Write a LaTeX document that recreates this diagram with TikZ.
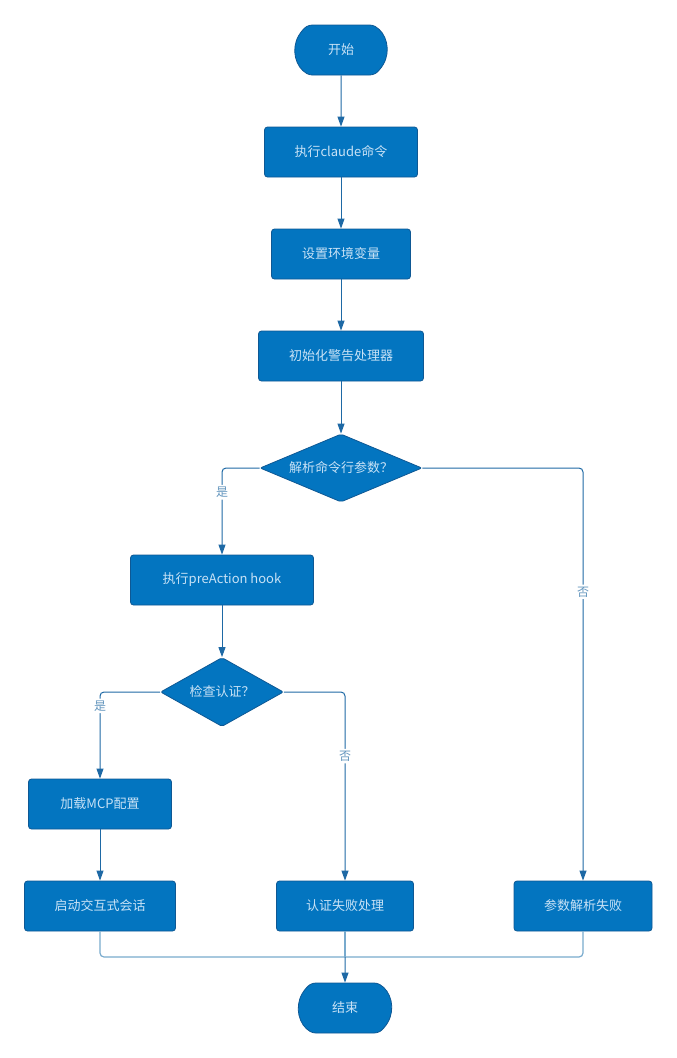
\documentclass[tikz,border=0pt]{standalone}
\usepackage{fontspec}
\setmainfont{Noto Sans CJK SC}
\usetikzlibrary{arrows.meta,shapes.geometric,shapes.misc}
\definecolor{boxfill}{RGB}{3,117,192}
\definecolor{boxline}{RGB}{14,88,148}
\definecolor{boxtext}{RGB}{200,226,246}
\definecolor{flowline}{RGB}{30,105,165}
\definecolor{joinline}{RGB}{120,170,205}
\definecolor{labtext}{RGB}{100,150,190}
\begin{document}
\begin{tikzpicture}[x=1pt,y=-1pt,
	box/.style={draw=boxline,fill=boxfill,line width=0.8pt,rounded corners=3pt,
		minimum height=50pt,text=boxtext,font=\fontsize{13}{15}\selectfont},
	term/.style={box,rounded rectangle,rounded rectangle arc length=120,minimum height=50pt},
	decide/.style={box,diamond,inner sep=0pt,rounded corners=2pt},
	flow/.style={draw=flowline,line width=1pt,rounded corners=4pt,-{Triangle[length=10pt,width=7pt]}},
	mergeline/.style={draw=joinline,line width=1.2pt,rounded corners=4pt},
	lab/.style={fill=white,text=labtext,inner sep=2pt,font=\fontsize{12}{14}\selectfont}]
	\useasboundingbox (0,0) rectangle (677,1058);
	% main line
	\node[term,minimum width=99pt] (start) at (341,50) {开始};
	\node[box,minimum width=153pt] (cmd) at (341,152) {执行claude命令};
	\node[box,minimum width=139pt] (env) at (341,254) {设置环境变量};
	\node[box,minimum width=165pt] (warn) at (341,356) {初始化警告处理器};
	\node[decide,aspect=2.4,minimum width=162pt,minimum height=68pt] (args) at (341,468) {解析命令行参数？};
	\node[box,minimum width=183pt] (hook) at (222,580) {执行preAction hook};
	\node[decide,aspect=1.8,minimum width=123pt,minimum height=69pt] (auth) at (222,692) {检查认证？};
	\node[box,minimum width=143pt] (mcp) at (100,804) {加载MCP配置};
	% bottom row
	\node[box,minimum width=151pt] (repl) at (100,906) {启动交互式会话};
	\node[box,minimum width=137pt] (authfail) at (345,906) {认证失败处理};
	\node[box,minimum width=138pt] (argsfail) at (583,906) {参数解析失败};
	\node[term,minimum width=100pt] (stop) at (345,1008) {结束};
	\coordinate (merge) at (345,957);
	% connectors
	\draw[flow] (start) -- (cmd);
	\draw[flow] (cmd) -- (env);
	\draw[flow] (env) -- (warn);
	\draw[flow] (warn) -- (args);
	\draw[flow] (args.west) -| (hook.north) node[lab,pos=0.64] {是};
	\draw[flow] (args.east) -| (argsfail.north) node[lab,pos=0.65] {否};
	\draw[flow] (hook) -- (auth);
	\draw[flow] (auth.west) -| (mcp.north) node[lab,pos=0.58] {是};
	\draw[flow] (auth.east) -| (authfail.north) node[lab,pos=0.67] {否};
	\draw[flow] (mcp) -- (repl);
	\draw[mergeline] (repl.south) |- (merge);
	\draw[mergeline] (argsfail.south) |- (merge);
	\draw[mergeline] (authfail.south) -- (merge);
	\draw[flow] (merge) -- (stop);
\end{tikzpicture}
\end{document}
